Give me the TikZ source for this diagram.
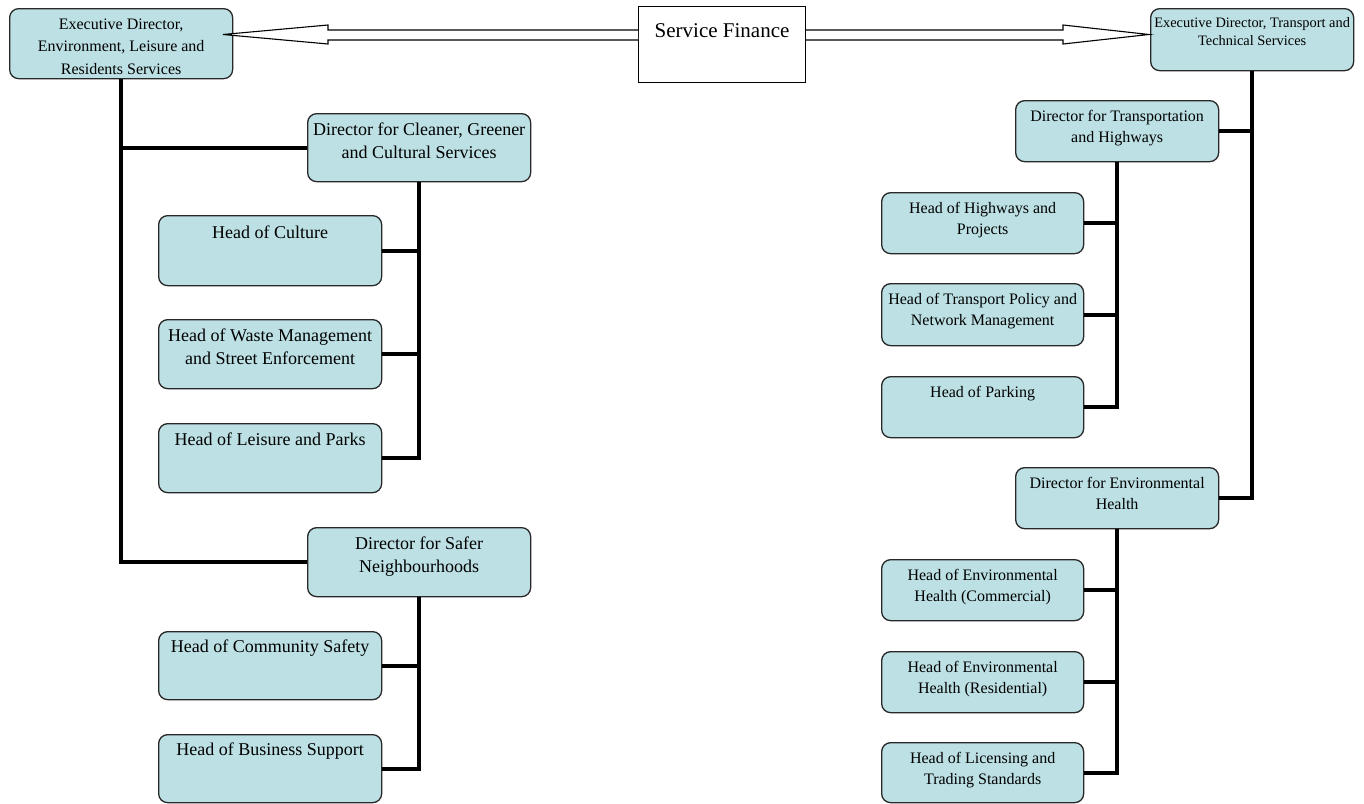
\documentclass[tikz,border=0pt]{standalone}
\usepackage{fontspec}
\setmainfont{Liberation Serif}
\usetikzlibrary{calc}

\definecolor{boxfill}{RGB}{188,224,228}
\definecolor{boxline}{RGB}{40,40,40}
\newdimen\px \px=0.5pt
% box text: width, height, gap above the capitals, lines
\newcommand{\orgtext}[4]{\parbox[c][#2\px][t]{#1\px}{\centering\rule{0pt}{\dimexpr\fontcharht\font`H+#3\px\relax}#4}}

\begin{document}
\begin{tikzpicture}[x=0.5pt, y=-0.5pt,
  unit/.style={draw=boxline, fill=boxfill, line width=0.65pt, rounded corners=4.5pt, inner sep=0pt, anchor=north west},
  big/.style={font=\fontsize{9}{11.5}\selectfont},
  small/.style={font=\fontsize{8}{10.75}\selectfont},
  link/.style={line width=2pt},
  hollow/.style={draw=black, line width=0.55pt, fill=white, line join=miter}]
 \useasboundingbox (0,0) rectangle (1364,803);

 % top row
 \node[unit, font=\fontsize{8}{11.25}\selectfont] (exl) at (9,8) {\orgtext{223}{70}{10}{Executive Director,\\ Environment, Leisure and\\ Residents Services}};
 \node[draw=black, fill=white, line width=0.55pt, inner sep=0pt, anchor=north west, font=\fontsize{10.5}{13}\selectfont] (sf) at (638,6) {\orgtext{167}{76}{17}{Service Finance}};
 \node[unit, font=\fontsize{7.2}{9.25}\selectfont] (exr) at (1150,8) {\orgtext{203}{62}{9}{Executive Director, Transport and\\ Technical Services}};

 % left branch
 \node[unit, big] (dcg) at (307,113) {\orgtext{223}{68}{10}{Director for Cleaner, Greener\\ and Cultural Services}};
 \node[unit, big] (culture) at (158,215) {\orgtext{223}{70}{11}{Head of Culture}};
 \node[unit, big] (waste) at (158,319) {\orgtext{223}{69}{10}{Head of Waste Management\\ and Street Enforcement}};
 \node[unit, big] (leisure) at (158,423) {\orgtext{223}{69}{10}{Head of Leisure and Parks}};
 \node[unit, big] (dsn) at (307,527) {\orgtext{223}{69}{10}{Director for Safer\\ Neighbourhoods}};
 \node[unit, big] (community) at (158,631) {\orgtext{223}{68}{9}{Head of Community Safety}};
 \node[unit, big] (business) at (158,734) {\orgtext{223}{68}{9}{Head of Business Support}};

 % right branch
 \node[unit, small] (dth) at (1015,100) {\orgtext{203}{61}{10}{Director for Transportation\\ and Highways}};
 \node[unit, small] (highways) at (881,192) {\orgtext{202}{61}{10}{Head of Highways and\\ Projects}};
 \node[unit, small] (policy) at (881,283) {\orgtext{202}{62}{10}{Head of Transport Policy and\\ Network Management}};
 \node[unit, small] (parking) at (881,376) {\orgtext{202}{61}{10}{Head of Parking}};
 \node[unit, small] (deh) at (1015,467) {\orgtext{203}{61}{10}{Director for Environmental\\ Health}};
 \node[unit, small] (commercial) at (881,559) {\orgtext{202}{61}{10}{Head of Environmental\\ Health (Commercial)}};
 \node[unit, small] (residential) at (881,651) {\orgtext{202}{61}{10}{Head of Environmental\\ Health (Residential)}};
 \node[unit, small] (licensing) at (881,742) {\orgtext{202}{60}{10}{Head of Licensing and\\ Trading Standards}};

 % links
 \draw[link] (exl.south) |- (dcg.west);
 \draw[link] (exl.south) |- (dsn.west);
 \foreach \n in {culture, waste, leisure}
  \draw[link] (dcg.south) |- (\n.east);
 \foreach \n in {community, business}
  \draw[link] (dsn.south) |- (\n.east);
 \draw[link] (exr.south) |- (dth.east);
 \draw[link] (exr.south) |- (deh.east);
 \foreach \n in {highways, policy, parking}
  \draw[link] (dth.south) |- (\n.east);
 \foreach \n in {commercial, residential, licensing}
  \draw[link] (deh.south) |- (\n.east);

 % finance arrows
 \coordinate (ltip) at (223,34.5);
 \coordinate (rtip) at (1149,34.5);
 \draw[hollow] (sf.west |- 0,30) -- (328,30) -- (328,25) -- (ltip) -- (328,44) -- (328,40) -- (sf.west |- 0,40);
 \draw[hollow] (sf.east |- 0,30) -- (1063,30) -- (1063,25) -- (rtip) -- (1063,44) -- (1063,40) -- (sf.east |- 0,40);
\end{tikzpicture}
\end{document}
